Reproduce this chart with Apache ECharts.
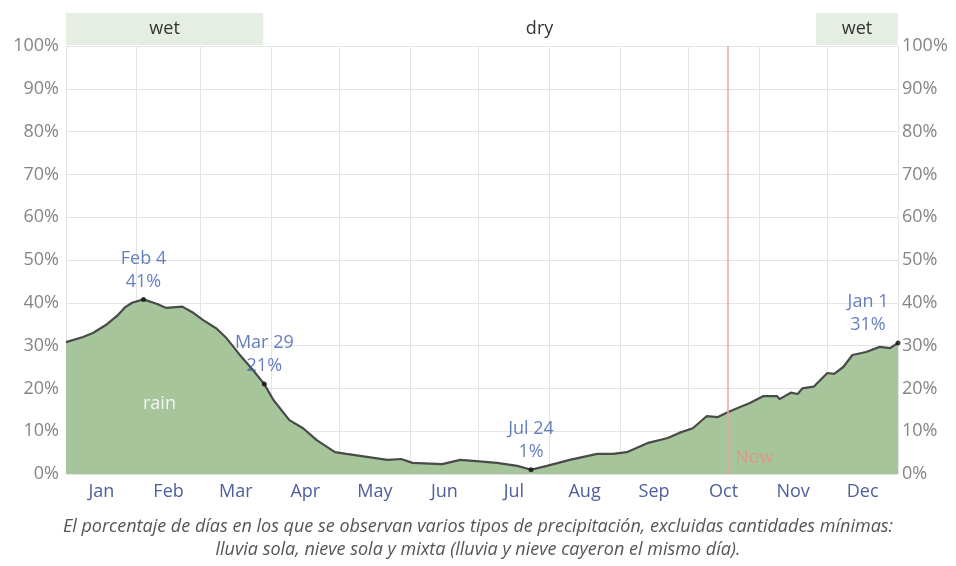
<!DOCTYPE html>
<html><head><meta charset="utf-8">
<script src="https://cdn.jsdelivr.net/npm/echarts@6/dist/echarts.min.js"></script>
<style>html,body{margin:0;padding:0;background:#fff}#c{width:956px;height:566px}</style>
</head><body><div id="c"></div>
<script>
// ---- data ----
const monthNames = ['Jan','Feb','Mar','Apr','May','Jun','Jul','Aug','Sep','Oct','Nov','Dec'];
const monthStarts = [0,31,59,90,120,151,181,212,243,273,304,334,365];
const monthMids = [15.5,45,74.5,105,135.5,166,196.5,227.5,258,288.5,319,349.5];
const yTicks = [0,10,20,30,40,50,60,70,80,90,100];
const days    = [0,7.5,12,18,22.5,26,29,34,40,44,51,56,60,66,70.5,76,82,87,91,98,104,110,118,123,132,141,147,152,165,173,180,189,198,204,211,221,233,240,246,255,264,269,275,281,286,290.5,296,300,306,312,313,318,321,323,328,334,337,341,345,351,357,361.5,365];
const rainPct = [30.8,32,33,35,37,39,40,40.8,39.7,38.8,39.1,37.6,36,34,31.7,28,24.3,21,17.3,12.6,10.7,7.9,5.1,4.7,4.0,3.3,3.5,2.6,2.3,3.3,3.0,2.6,1.9,1.0,1.9,3.3,4.7,4.7,5.1,7.2,8.4,9.6,10.7,13.5,13.3,14.5,15.7,16.6,18.2,18.2,17.5,19,18.7,20,20.4,23.6,23.4,25,27.8,28.5,29.7,29.4,30.6];
const highlights = [
  {day:34, value:40.8, label:'Feb 4\n41%'},
  {day:87, value:21, label:'Mar 29\n21%'},
  {day:204, value:1, label:'Jul 24\n1%'},
  {day:365, value:30.6, label:'Jan 1\n31%'}
];
const seasons = [
  {from:0, to:86.5, name:'wet', wet:true},
  {from:86.5, to:329, name:'dry', wet:false},
  {from:329, to:365, name:'wet', wet:true}
];
const nowDay = 290.5;
const nowLabelAt = [nowDay, 3.8];
const seriesName = 'rain';
const seriesLabelAt = [41, 16.5];
const caption1 = 'El porcentaje de días en los que se observan varios tipos de precipitación, excluidas cantidades mínimas:';
const caption2 = 'lluvia sola, nieve sola y mixta (lluvia y nieve cayeron el mismo día).';

const FONT = '"Open Sans", "Noto Sans", sans-serif';
const FS = 18;
const chart = echarts.init(document.getElementById('c'), null, {renderer:'canvas'});
const lineData = days.map((d,i)=>[d, rainPct[i]]);

chart.setOption({
  animation:false,
  textStyle:{fontFamily:FONT},
  grid:[
    {left:66, right:58, top:46, bottom:92},
    {left:66, right:58, top:13, height:32}
  ],
  xAxis:[
    {type:'value', gridIndex:0, min:0, max:365,
     axisLine:{show:false},
     axisTick:{show:false, customValues:monthStarts},
     splitLine:{show:true, lineStyle:{color:'#e4e4e4', width:1}},
     axisLabel:{customValues:monthMids, color:'#4d5e9c', fontSize:FS, margin:9, fontFamily:FONT,
       formatter:v=>{const i=monthMids.indexOf(v);return i>=0?monthNames[i]:'';}}},
    {type:'value', gridIndex:1, min:0, max:365, show:false}
  ],
  yAxis:[
    {type:'value', gridIndex:0, min:0, max:100, interval:10, position:'left',
     axisLine:{show:false}, axisTick:{show:false},
     splitLine:{lineStyle:{color:'#e4e4e4'}},
     axisLabel:{formatter:'{value}%', color:'#858585', fontSize:FS, margin:7, fontFamily:FONT}},
    {type:'value', gridIndex:0, min:0, max:100, interval:10, position:'right',
     axisLine:{show:false}, axisTick:{show:false}, splitLine:{show:false},
     axisLabel:{formatter:'{value}%', color:'#858585', fontSize:FS, margin:4, fontFamily:FONT}},
    {type:'value', gridIndex:1, min:0, max:1, show:false}
  ],
  series:[
    {name:seriesName, type:'line', xAxisIndex:0, yAxisIndex:0, data:lineData, showSymbol:false, symbol:'none',
     lineStyle:{color:'#4a4a4a', width:2.2}, areaStyle:{color:'#a7c59b', opacity:1},
     markLine:{silent:true, symbol:'none', label:{show:false},
       lineStyle:{color:'#e9a3a3', width:1.5, type:'solid'},
       data:[{xAxis:nowDay}]}
    },
    {type:'scatter', xAxisIndex:0, yAxisIndex:0, symbol:'circle', symbolSize:5, itemStyle:{color:'#111'},
     z:5,
     data:highlights.map((h,i)=>({value:[h.day,h.value],
       label:{show:true, formatter:h.label, position:'top', distance:4,
         offset: i===3 ? [-30,0] : [0,0],
         color:'#3f5fae', fontSize:FS, lineHeight:23, align:'center'}}))},
    {type:'line', xAxisIndex:1, yAxisIndex:2, data:[], 
     markArea:{silent:true,
       data:seasons.map(s=>[
         {xAxis:s.from, yAxis:0, name:s.name, itemStyle:{color:s.wet?'#e6ede2':'rgba(0,0,0,0)'}},
         {xAxis:s.to, yAxis:1}
       ]),
       label:{show:true, position:'inside', color:'#333', fontSize:FS}
     }}
  ]
});

const pNow = chart.convertToPixel({gridIndex:0}, nowLabelAt);
const pRain = chart.convertToPixel({gridIndex:0}, seriesLabelAt);
chart.setOption({
  graphic:[
    {type:'text', z:100, x:pNow[0]+7, y:pNow[1], style:{text:'Now', fill:'#d99a8a', font:FS+'px '+FONT, verticalAlign:'middle', textAlign:'left'}},
    {type:'text', z:100, x:pRain[0], y:pRain[1], style:{text:seriesName, fill:'#f3f6f1', font:FS+'px '+FONT, verticalAlign:'middle', textAlign:'center'}},
    {type:'text', left:'center', top:515, style:{text:caption1+'\n'+caption2, fill:'#555', font:'italic 18px '+FONT, textAlign:'center', lineHeight:23}}
  ]
});
</script></body></html>
